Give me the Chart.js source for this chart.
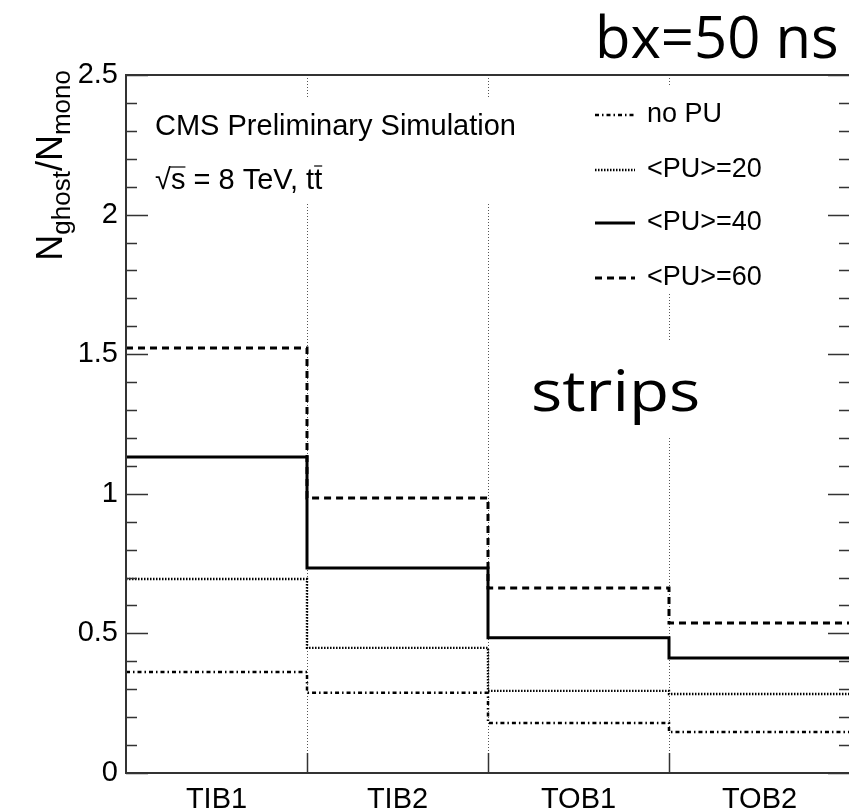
<!DOCTYPE html>
<html>
<head>
<meta charset="utf-8">
<script src="https://cdn.jsdelivr.net/npm/chart.js@4.4.0/dist/chart.umd.min.js"></script>
<style>
html, body { margin: 0; padding: 0; overflow: hidden; background: #fff; }
#ghostChart { display: block; }
</style>
</head>
<body>
<canvas id="ghostChart" width="860" height="812"></canvas>
<script>
const layers = ["TIB1", "TIB2", "TOB1", "TOB2"];
const noPU = [0.362, 0.287, 0.179, 0.147];
const pu20 = [0.695, 0.448, 0.294, 0.283];
const pu40 = [1.132, 0.734, 0.484, 0.412];
const pu60 = [1.522, 0.985, 0.663, 0.537];
const seriesNames = ["no PU", "<PU>=20", "<PU>=40", "<PU>=60"];

const ROOT_FONT = "'Liberation Sans', Arial, sans-serif";
const BIG_FONT = "'Open Sans', sans-serif";

// histogram look: bin i is drawn from x=i to x=i+1
function toSteps(values) {
    const pts = values.map((v, i) => ({ x: i, y: v }));
    pts.push({ x: values.length, y: values[values.length - 1] });
    return pts;
}

function histo(label, values, dash, width) {
    return {
        label: label,
        data: toSteps(values),
        borderColor: "#000",
        borderWidth: width,
        borderDash: dash,
        stepped: "before",
        pointRadius: 0,
        fill: false
    };
}

const rootStyle = {
    id: "rootStyle",
    beforeDatasetsDraw(chart) {
        // white boxes of the text/legend hide the dotted grid
        const ctx = chart.ctx;
        ctx.save();
        ctx.fillStyle = "#fff";
        ctx.fillRect(150, 98, 375, 105);
        ctx.fillRect(578, 86, 210, 206);
        ctx.fillRect(522, 342, 195, 96);
        ctx.restore();
    },
    afterDatasetsDraw(chart) {
        const ctx = chart.ctx;
        const area = chart.chartArea;
        const xs = chart.scales.x;
        const ys = chart.scales.y;
        ctx.save();

        // frame
        ctx.strokeStyle = "#333";
        ctx.lineWidth = 2;
        ctx.strokeRect(area.left, area.top, area.right - area.left, area.bottom - area.top);

        // y ticks, both sides, major every 0.5
        ctx.lineWidth = 1.5;
        for (let k = 0; k <= 25; k++) {
            const y = Math.round(ys.getPixelForValue(k / 10)) + 0.5;
            const len = k % 5 === 0 ? 22 : 11;
            ctx.beginPath();
            ctx.moveTo(area.left, y); ctx.lineTo(area.left + len, y);
            ctx.moveTo(area.right, y); ctx.lineTo(area.right - len, y);
            ctx.stroke();
        }
        // x ticks at bin edges
        for (let i = 1; i < layers.length; i++) {
            const x = Math.round(xs.getPixelForValue(i)) + 0.5;
            ctx.beginPath();
            ctx.moveTo(x, area.bottom); ctx.lineTo(x, area.bottom - 20);
            ctx.stroke();
        }

        // y title  N_ghost / N_mono, rotated, aligned to the top
        const big = "36px " + ROOT_FONT, sub = "26px " + ROOT_FONT;
        const parts = [["N", big, 0], ["ghost", sub, 8], ["/", big, 0], ["N", big, 0], ["mono", sub, 8]];
        let total = 0;
        parts.forEach(p => { ctx.font = p[1]; total += ctx.measureText(p[0]).width; });
        ctx.save();
        ctx.translate(62, area.top - 5 + total);
        ctx.rotate(-Math.PI / 2);
        ctx.fillStyle = "#000";
        ctx.textBaseline = "alphabetic";
        let px = 0;
        parts.forEach(p => {
            ctx.font = p[1];
            ctx.fillText(p[0], px, p[2]);
            px += ctx.measureText(p[0]).width;
        });
        ctx.restore();

        // CMS text
        ctx.fillStyle = "#000";
        ctx.textBaseline = "alphabetic";
        ctx.font = "29px " + ROOT_FONT;
        ctx.fillText("CMS Preliminary Simulation", 155, 135);
        let x0 = 155;
        ctx.fillText("\u221A", x0, 189);
        x0 += ctx.measureText("\u221A").width;
        const sW = ctx.measureText("s").width;
        ctx.fillText("s", x0, 189);
        ctx.lineWidth = 1.5;
        ctx.beginPath(); ctx.moveTo(x0 - 1, 167); ctx.lineTo(x0 + sW, 167); ctx.stroke();
        x0 += sW;
        const rest = " = 8 TeV, t";
        ctx.fillText(rest, x0, 189);
        x0 += ctx.measureText(rest).width;
        const tW = ctx.measureText("t").width;
        ctx.fillText("t", x0, 189);
        ctx.beginPath(); ctx.moveTo(x0, 166); ctx.lineTo(x0 + tW, 166); ctx.stroke();

        // legend
        const rows = [115, 170, 223, 278];
        chart.data.datasets.forEach((ds, i) => {
            ctx.save();
            ctx.strokeStyle = "#000";
            ctx.lineWidth = ds.borderWidth;
            ctx.setLineDash(ds.borderDash);
            ctx.beginPath();
            ctx.moveTo(595, rows[i]); ctx.lineTo(635, rows[i]);
            ctx.stroke();
            ctx.restore();
            ctx.font = "27px " + ROOT_FONT;
            ctx.textBaseline = "middle";
            ctx.fillText(seriesNames[i], 647, rows[i]);
        });

        // big labels
        ctx.textBaseline = "alphabetic";
        ctx.font = "58px " + BIG_FONT;
        ctx.fillText("bx=50 ns", 595, 58);
        ctx.save();
        ctx.translate(531, 411);
        ctx.scale(1.15, 1);
        ctx.font = "57px " + BIG_FONT;
        ctx.fillText("strips", 0, 0);
        ctx.restore();

        ctx.restore();
    }
};

const ctx = document.getElementById("ghostChart").getContext("2d");
const chart = new Chart(ctx, {
    type: "line",
    data: {
        datasets: [
            histo(seriesNames[0], noPU, [4, 3, 1.5, 3], 2.5),
            histo(seriesNames[1], pu20, [1.5, 1.5], 2.4),
            histo(seriesNames[2], pu40, [], 3),
            histo(seriesNames[3], pu60, [7, 5], 3)
        ]
    },
    options: {
        responsive: false,
        animation: false,
        layout: { padding: { left: 0, right: 7, top: 75, bottom: 0 } },
        plugins: { legend: { display: false }, tooltip: { enabled: false } },
        scales: {
            x: {
                type: "linear",
                min: 0,
                max: layers.length,
                afterBuildTicks: s => {
                    const t = [];
                    for (let i = 0; i <= layers.length; i++) {
                        t.push({ value: i });
                        if (i < layers.length) t.push({ value: i + 0.5 });
                    }
                    s.ticks = t;
                },
                afterFit: s => { s.height = 39; },
                ticks: {
                    autoSkip: false,
                    maxRotation: 0,
                    padding: 10,
                    color: "#000",
                    font: { family: ROOT_FONT, size: 29 },
                    callback: v => Number.isInteger(v) ? "" : layers[Math.floor(v)]
                },
                grid: {
                    drawTicks: false,
                    lineWidth: 1,
                    color: c => (c.tick && Number.isInteger(c.tick.value) && c.tick.value > 0 && c.tick.value < layers.length) ? "#555" : "rgba(0,0,0,0)"
                },
                border: { display: false, dash: [1, 2] }
            },
            y: {
                min: 0,
                max: 2.5,
                afterFit: s => { s.width = 126; },
                ticks: {
                    stepSize: 0.5,
                    padding: 8,
                    color: "#000",
                    font: { family: ROOT_FONT, size: 29 },
                    callback: v => String(v)
                },
                grid: { display: false, drawTicks: false },
                border: { display: false }
            }
        }
    },
    plugins: [rootStyle]
});
</script>
</body>
</html>
